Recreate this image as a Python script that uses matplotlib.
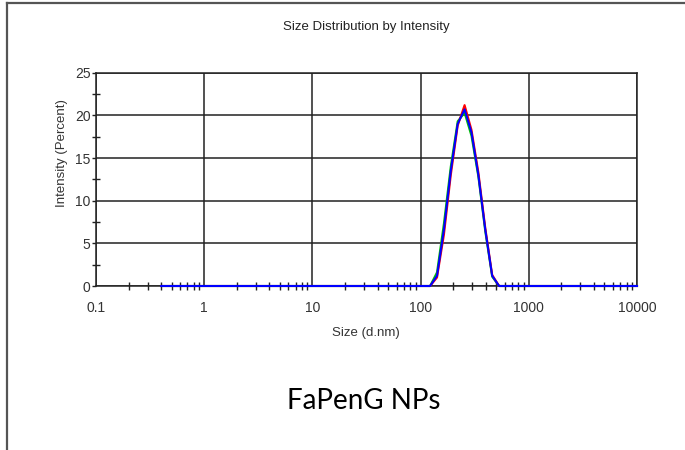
import matplotlib
matplotlib.use("Agg")
import matplotlib.pyplot as plt
from matplotlib.lines import Line2D
from matplotlib.ticker import LogLocator, FixedLocator, NullFormatter

# Size bins (d.nm) and intensity (%) for the three runs
sizes = [0.4, 106.0, 122.4, 141.8, 164.2, 190.1, 220.2, 255.0, 295.3, 342.0, 396.1, 458.7, 531.2, 10000]
run_red = [0, 0, 0, 1.0, 6.0, 13.0, 18.8, 21.2, 18.3, 13.3, 6.8, 1.3, 0, 0]
run_green = [0, 0, 0, 1.6, 7.3, 14.0, 19.3, 20.3, 17.6, 12.8, 6.4, 1.1, 0, 0]
run_blue = [0, 0, 0, 1.2, 6.6, 13.5, 19.0, 20.7, 18.0, 13.0, 6.6, 1.2, 0, 0]

x_ticks = [0.1, 1, 10, 100, 1000, 10000]
x_labels = ["0.1", "1", "10", "100", "1000", "10000"]
y_ticks = [0, 5, 10, 15, 20, 25]

narrow = ["Liberation Sans", "DejaVu Sans"]

W, H = 685, 450
fig = plt.figure(figsize=(W / 100, H / 100), dpi=100)
ax = fig.add_axes([96 / W, 1 - 286 / H, (637 - 96) / W, (286 - 72.7) / H])

ax.plot(sizes, run_green, color="#00c000", lw=1.5, zorder=3, clip_on=False)
ax.plot(sizes, run_red, color="#ff0000", lw=1.5, zorder=4, clip_on=False)
ax.plot(sizes, run_blue, color="#0000ff", lw=1.5, zorder=5, clip_on=False)

ax.set_xscale("log")
ax.set_xlim(0.1, 10000)
ax.set_ylim(0, 25)
ax.set_xticks(x_ticks)
ax.set_xticklabels(x_labels)
ax.xaxis.set_minor_locator(LogLocator(base=10, subs=range(2, 10)))
ax.xaxis.set_minor_formatter(NullFormatter())
ax.set_yticks(y_ticks)
ax.yaxis.set_minor_locator(FixedLocator([2.5, 7.5, 12.5, 17.5, 22.5]))

ax.grid(True, which="major", color="#222222", lw=1.1)
ax.set_axisbelow(True)
for s in ax.spines.values():
    s.set_color("#222222")
    s.set_linewidth(1.1)

ax.tick_params(axis="x", which="major", direction="in", length=0, pad=11)
ax.tick_params(axis="x", which="minor", direction="inout", length=6, width=1, color="#222222")
ax.tick_params(axis="y", which="major", direction="out", length=3, width=1, pad=1, color="#222222")
ax.tick_params(axis="y", which="minor", direction="inout", length=6, width=1, color="#222222")
for lbl in ax.get_xticklabels() + ax.get_yticklabels():
    lbl.set_fontfamily(narrow)
    lbl.set_fontsize(10)
    lbl.set_color("#333333")

fig.text(366 / W, 1 - 27 / H, "Size Distribution by Intensity", ha="center", va="center",
         fontsize=9.5, family=narrow, color="#222222")
fig.text(366 / W, 1 - 333 / H, "Size (d.nm)", ha="center", va="center",
         fontsize=9.5, family=narrow, color="#333333")
fig.text(62 / W, 1 - 153 / H, "Intensity (Percent)", ha="center", va="center", rotation=90,
         fontsize=9.5, family=narrow, color="#333333")
fig.text(364 / W, 1 - 401 / H, "FaPenG NPs", ha="center", va="center",
         fontsize=20, family=["Lato", "DejaVu Sans"], color="black")

# outer frame (top and left edges)
fig.add_artist(Line2D([7 / W, 1], [1 - 3 / H, 1 - 3 / H], transform=fig.transFigure, color="#555555", lw=1.6))
fig.add_artist(Line2D([7 / W, 7 / W], [0, 1 - 3 / H], transform=fig.transFigure, color="#555555", lw=1.6))

fig.savefig("out.png", dpi=100)
